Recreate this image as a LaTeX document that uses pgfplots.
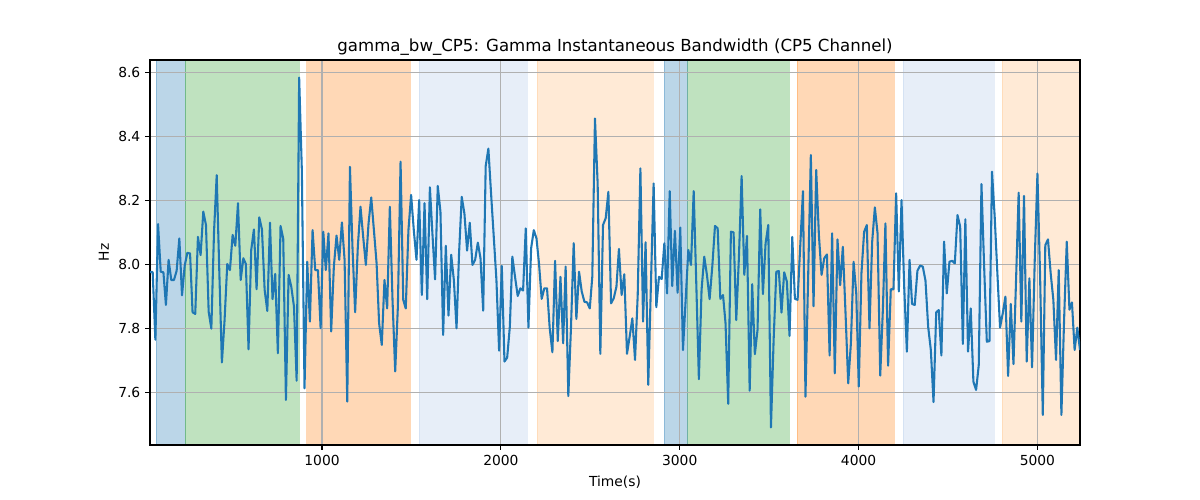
\documentclass[border=0pt]{standalone}
\usepackage{pgfplots}
\pgfplotsset{compat=1.18}
\usepackage{fontspec}
\setmainfont{DejaVu Sans}
\definecolor{tabblue}{HTML}{1F77B4}
\definecolor{tabgreen}{HTML}{2CA02C}
\definecolor{taborange}{HTML}{FF7F0E}
\definecolor{lblue}{HTML}{AEC7E8}
\definecolor{lorange}{HTML}{FFBB78}
\definecolor{gridgray}{HTML}{B0B0B0}
\begin{document}
\begin{tikzpicture}
\begin{axis}[
  set layers,
  at={(0,0)}, anchor=south west,
  scale only axis,
  width=9.3in, height=3.85in,
  xmin=38, xmax=5238, ymin=7.435, ymax=8.639,
  xtick={1000,2000,3000,4000,5000},
  ytick={7.6,7.8,8.0,8.2,8.4,8.6},
  /pgf/number format/assume math mode=true,
  /pgf/number format/set thousands separator={},
  y tick label style={/pgf/number format/.cd, fixed, fixed zerofill, precision=1},
  tick label style={font=\fontsize{10}{12}\selectfont},
  tick align=outside, tick pos=left,
  major tick length=3.5pt,
  every tick/.style={black, line width=0.8pt},
  axis line style={line width=0.8pt},
  grid=major,
  major grid style={gridgray, line width=0.8pt},
  title={gamma\_bw\_CP5: Gamma Instantaneous Bandwidth (CP5 Channel)},
  title style={font=\fontsize{12}{14}\selectfont, yshift=-6.5pt},
  xlabel={Time(s)}, ylabel={Hz},
  label style={font=\fontsize{10}{12}\selectfont},
  xlabel style={yshift=-1pt},
  ylabel style={yshift=0pt},
]
\addplot[on layer=axis background, fill=tabblue, draw=tabblue, fill opacity=0.3, draw opacity=0.3] coordinates {(71,7.435) (234,7.435) (234,8.639) (71,8.639)} -- cycle;
\addplot[on layer=axis background, fill=tabgreen, draw=tabgreen, fill opacity=0.3, draw opacity=0.3] coordinates {(234,7.435) (870,7.435) (870,8.639) (234,8.639)} -- cycle;
\addplot[on layer=axis background, fill=taborange, draw=taborange, fill opacity=0.3, draw opacity=0.3] coordinates {(914,7.435) (1491,7.435) (1491,8.639) (914,8.639)} -- cycle;
\addplot[on layer=axis background, fill=lblue, draw=lblue, fill opacity=0.3, draw opacity=0.3] coordinates {(1541,7.435) (2145,7.435) (2145,8.639) (1541,8.639)} -- cycle;
\addplot[on layer=axis background, fill=lorange, draw=lorange, fill opacity=0.3, draw opacity=0.3] coordinates {(2203,7.435) (2850,7.435) (2850,8.639) (2203,8.639)} -- cycle;
\addplot[on layer=axis background, fill=tabblue, draw=tabblue, fill opacity=0.3, draw opacity=0.3] coordinates {(2913,7.435) (3044,7.435) (3044,8.639) (2913,8.639)} -- cycle;
\addplot[on layer=axis background, fill=tabgreen, draw=tabgreen, fill opacity=0.3, draw opacity=0.3] coordinates {(3044,7.435) (3613,7.435) (3613,8.639) (3044,8.639)} -- cycle;
\addplot[on layer=axis background, fill=taborange, draw=taborange, fill opacity=0.3, draw opacity=0.3] coordinates {(3656,7.435) (4198,7.435) (4198,8.639) (3656,8.639)} -- cycle;
\addplot[on layer=axis background, fill=lblue, draw=lblue, fill opacity=0.3, draw opacity=0.3] coordinates {(4250,7.435) (4757,7.435) (4757,8.639) (4250,8.639)} -- cycle;
\addplot[on layer=axis background, fill=lorange, draw=none, fill opacity=0.3] coordinates {(4804,7.435) (5238,7.435) (5238,8.639) (4804,8.639)} -- cycle;
\addplot[on layer=axis background, draw=lorange, draw opacity=0.3] coordinates {(4804,7.435) (4804,8.639)};
\addplot[tabblue, line width=1.5pt, line join=round, mark=none] table {
x y
38 7.976
53 7.976
68 7.764
83 8.126
98 7.977
113 7.975
127 7.873
142 8.014
157 7.951
172 7.951
187 7.980
202 8.081
217 7.903
232 7.996
247 8.036
262 8.034
276 7.850
291 7.845
306 8.086
321 8.029
336 8.165
351 8.123
366 7.852
381 7.799
396 8.102
411 8.279
425 7.988
440 7.693
455 7.826
470 8.001
485 7.982
500 8.092
515 8.058
530 8.191
545 7.951
560 8.019
574 8.001
589 7.734
604 8.045
619 8.109
634 7.922
649 8.147
664 8.109
679 7.920
694 7.854
709 8.130
723 7.891
738 7.970
753 7.722
768 8.120
783 8.080
798 7.576
813 7.967
828 7.930
843 7.868
858 7.636
872 8.584
887 8.295
902 7.612
917 8.008
932 7.821
947 8.107
962 7.982
977 7.982
992 7.800
1007 8.102
1021 7.982
1036 8.097
1051 7.790
1066 7.993
1081 8.090
1096 8.014
1111 8.131
1126 8.014
1141 7.571
1156 8.305
1170 8.055
1185 7.850
1200 8.055
1215 8.180
1230 8.086
1245 7.998
1260 8.128
1275 8.209
1290 8.107
1305 8.003
1319 7.816
1334 7.748
1349 7.951
1364 7.862
1379 8.180
1394 7.889
1409 7.665
1424 7.868
1439 8.321
1454 7.889
1468 7.862
1483 8.107
1498 8.217
1513 8.107
1528 8.014
1543 8.201
1558 7.904
1573 8.191
1588 7.891
1603 8.241
1617 8.097
1632 7.953
1647 8.245
1662 8.165
1677 7.779
1692 8.058
1707 7.840
1722 8.030
1737 7.951
1752 7.800
1766 8.034
1781 8.211
1796 8.159
1811 8.043
1826 8.130
1841 7.998
1856 8.014
1871 8.068
1886 8.019
1901 7.855
1915 8.307
1930 8.362
1945 8.222
1960 8.087
1975 7.951
1990 7.730
2005 7.995
2020 7.696
2035 7.708
2050 7.805
2064 8.024
2079 7.961
2094 7.901
2109 7.925
2124 7.918
2139 8.112
2154 7.802
2169 8.050
2184 8.107
2199 8.081
2213 8.003
2228 7.892
2243 7.925
2258 7.925
2273 7.800
2288 7.725
2303 8.011
2318 7.760
2333 7.961
2348 7.753
2362 7.993
2377 7.588
2392 7.805
2407 8.066
2422 7.829
2437 7.977
2452 7.915
2467 7.883
2482 7.881
2497 7.862
2511 7.961
2526 8.456
2541 8.253
2556 7.720
2571 8.123
2586 8.144
2601 8.227
2616 7.878
2631 7.894
2646 7.930
2660 8.048
2675 7.904
2690 7.969
2705 7.720
2720 7.774
2735 7.831
2750 7.701
2765 7.904
2780 8.300
2795 7.821
2809 8.069
2824 7.623
2839 7.940
2854 8.253
2869 7.866
2884 7.961
2899 7.954
2914 8.066
2929 7.909
2944 8.229
2958 7.932
2973 8.105
2988 7.911
3003 8.115
3018 7.732
3033 7.888
3048 8.045
3063 7.998
3078 8.229
3093 7.930
3107 7.641
3122 7.920
3137 8.024
3152 7.967
3167 7.891
3182 7.993
3197 8.120
3212 8.113
3227 7.892
3242 7.904
3256 7.816
3271 7.564
3286 8.102
3301 8.100
3316 7.826
3331 8.024
3346 8.276
3361 7.967
3376 8.089
3391 7.605
3405 7.938
3420 7.719
3435 7.795
3450 8.172
3465 7.907
3480 8.066
3495 8.123
3510 7.490
3525 7.764
3540 7.977
3554 7.979
3569 7.849
3584 7.975
3599 7.946
3614 7.776
3629 8.086
3644 7.892
3659 7.889
3674 8.060
3689 8.229
3703 7.586
3718 7.961
3733 8.342
3748 7.869
3763 8.295
3778 8.092
3793 7.967
3808 8.019
3823 8.031
3838 7.715
3852 8.097
3867 7.659
3882 8.078
3897 7.935
3912 8.055
3927 7.847
3942 7.628
3957 7.753
3972 8.008
3987 7.909
4001 7.618
4016 7.972
4031 8.102
4046 8.123
4061 7.800
4076 8.071
4091 8.178
4106 8.097
4121 7.652
4136 7.862
4150 8.128
4165 7.683
4180 7.922
4195 7.922
4210 8.222
4225 7.915
4240 8.201
4255 7.930
4270 7.727
4285 8.014
4299 7.876
4314 7.873
4329 7.980
4344 7.996
4359 7.993
4374 7.949
4389 7.805
4404 7.732
4419 7.569
4434 7.850
4448 7.857
4463 7.715
4478 8.071
4493 7.909
4508 8.008
4523 8.011
4538 8.003
4553 8.154
4568 8.118
4583 7.751
4597 8.141
4612 7.727
4627 7.862
4642 7.633
4657 7.607
4672 7.685
4687 8.251
4702 7.993
4717 7.758
4732 7.760
4746 8.290
4761 8.149
4776 7.972
4791 7.802
4806 7.847
4821 7.899
4836 7.651
4851 7.876
4866 7.688
4881 7.961
4895 8.224
4910 7.821
4925 8.214
4940 7.696
4955 7.956
4970 7.678
4985 8.014
5000 8.284
5015 7.961
5030 7.529
5044 8.060
5059 8.078
5074 7.972
5089 7.889
5104 7.701
5119 7.982
5134 7.529
5149 7.826
5164 8.071
5179 7.858
5193 7.881
5208 7.732
5223 7.802
5238 7.732
};
\end{axis}
\path (-1.5in,-0.55in) rectangle (10.5in,4.45in);
\end{tikzpicture}
\end{document}
